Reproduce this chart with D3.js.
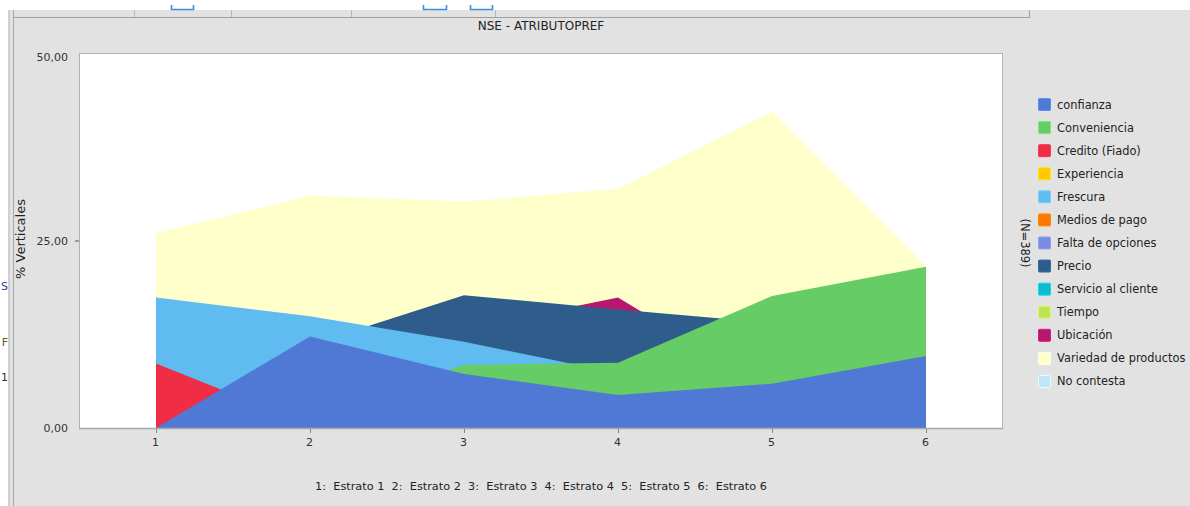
<!DOCTYPE html>
<html>
<head>
<meta charset="utf-8">
<script src="https://cdn.jsdelivr.net/npm/d3@7/dist/d3.min.js"></script>
<style>
  html, body { margin: 0; padding: 0; background: #ffffff; }
  svg { display: block; font-family: "DejaVu Sans", Verdana, sans-serif; }
</style>
</head>
<body>
<svg id="chart" width="1190" height="506"></svg>
<script>
// ---- data ---------------------------------------------------------------
const categories = ["1", "2", "3", "4", "5", "6"];

const confianza       = [0.0, 12.2, 7.2, 4.4, 5.9, 9.6];
const conveniencia    = [0.0, 1.5, 8.4, 8.7, 17.6, 21.5];
const credito         = [8.6, 0.4, 0.0, 0.0, 0.0, 0.0];
const experiencia     = [0, 0, 0, 0, 0, 0];
const frescura        = [17.4, 14.9, 11.5, 7.3, 9.0, 6.5];
const mediosDePago    = [0, 0, 0, 0, 0, 0];
const faltaDeOpciones = [0, 0, 0, 0, 0, 0];
const precio          = [9.0, 11.1, 17.7, 15.8, 14.0, 12.0];
const servicioCliente = [0, 0, 0, 0, 0, 0];
const tiempo          = [0, 0, 0, 0, 0, 0];
const ubicacion       = [7.0, 9.5, 13.2, 17.4, 5.0, 4.0];
const variedad        = [26.0, 31.0, 30.2, 31.9, 42.2, 21.6];
const noContesta      = [0, 0, 0, 0, 0, 0];

const seriesNames = [
  "confianza", "Conveniencia", "Credito (Fiado)", "Experiencia", "Frescura",
  "Medios de pago", "Falta de opciones", "Precio", "Servicio al cliente",
  "Tiempo", "Ubicación", "Variedad de productos", "No contesta"
];
const seriesValues = [
  confianza, conveniencia, credito, experiencia, frescura, mediosDePago,
  faltaDeOpciones, precio, servicioCliente, tiempo, ubicacion, variedad, noContesta
];
const seriesColors = [
  "#5079d5", "#66cc66", "#ef2e45", "#ffc800", "#60bbf0", "#ff7800",
  "#7b8ce0", "#2e5d8c", "#0dbcd0", "#bce35a", "#b8176f", "#ffffcc", "#c2e4fa"
];

const yTicks = [0, 25, 50];
const chartTitle = "NSE - ATRIBUTOPREF";
const yAxisTitle = "% Verticales";
const sampleNote = "(N=389)";
const categoryKey = "1:  Estrato 1  2:  Estrato 2  3:  Estrato 3  4:  Estrato 4  5:  Estrato 5  6:  Estrato 6";

// ---- layout ---------------------------------------------------------------
const W = 1190, H = 506;
const plot = { left: 79, top: 53, right: 1003, bottom: 428 };
const panelBg = "#e2e2e2";

const svg = d3.select("#chart");

// window chrome: white strip on top, grey panel, separators
svg.append("rect").attr("x", 0).attr("y", 0).attr("width", W).attr("height", H).attr("fill", "#ffffff");
svg.append("rect").attr("x", 10).attr("y", 10).attr("width", W - 10).attr("height", H - 10).attr("fill", panelBg);
svg.append("rect").attr("x", 8).attr("y", 10).attr("width", 2).attr("height", H - 10).attr("fill", "#d0d0d0");
svg.append("line").attr("x1", 13.5).attr("x2", 13.5).attr("y1", 10).attr("y2", H)
  .attr("stroke", "#a8a8a8").attr("stroke-width", 1);
svg.append("line").attr("x1", 13).attr("x2", 1030).attr("y1", 17.5).attr("y2", 17.5)
  .attr("stroke", "#a0a0a0").attr("stroke-width", 1);
svg.append("line").attr("x1", 1029.5).attr("x2", 1029.5).attr("y1", 10).attr("y2", 18)
  .attr("stroke", "#a0a0a0");
[134, 231, 351, 495].forEach(x => {
  svg.append("line").attr("x1", x + 0.5).attr("x2", x + 0.5).attr("y1", 10).attr("y2", 17)
    .attr("stroke", "#b8b8b8");
});
// toolbar button edges peeking below the top strip
[[171, 193], [423, 446], [470, 492]].forEach(([a, b]) => {
  svg.append("path")
    .attr("d", `M${a + 0.5},5 V9.5 H${b + 0.5} V5`)
    .attr("fill", "none").attr("stroke", "#3d8ee0").attr("stroke-width", 1.6);
});
// clipped characters of the neighbouring panel
const sideGlyphs = [["S", 290, "#2b3f9a"], ["F", 346, "#6b5a10"], ["1", 381, "#333333"]];
sideGlyphs.forEach(([t, y, c]) => {
  svg.append("text").attr("x", 8).attr("y", y).attr("text-anchor", "end")
    .attr("font-size", 11).attr("fill", c).text(t);
});

// ---- scales -----------------------------------------------------------------
const x = d3.scalePoint().domain(categories).range([plot.left, plot.right]).padding(0.5);
const y = d3.scaleLinear().domain([0, 50]).range([plot.bottom, plot.top]);

const locale = d3.formatLocale({ decimal: ",", thousands: ".", grouping: [3], currency: ["", ""] });
const fmt = locale.format(".2f");

// plot background
svg.append("rect").attr("x", plot.left).attr("y", plot.top)
  .attr("width", plot.right - plot.left).attr("height", plot.bottom - plot.top)
  .attr("fill", "#ffffff");

// ---- areas (first series painted last, so it sits in front) ------------------
const area = d3.area()
  .x((d, i) => x(categories[i]))
  .y0(y(0))
  .y1(d => y(d));

const order = d3.range(seriesNames.length).reverse();
svg.append("g").selectAll("path")
  .data(order)
  .join("path")
  .attr("d", k => area(seriesValues[k]))
  .attr("fill", k => seriesColors[k]);

// plot frame
svg.append("rect").attr("x", plot.left + 0.5).attr("y", plot.top + 0.5)
  .attr("width", plot.right - plot.left - 1).attr("height", plot.bottom - plot.top)
  .attr("fill", "none").attr("stroke", "#b4b4b4");
svg.append("line").attr("x1", plot.left).attr("x2", plot.right).attr("y1", plot.bottom + 0.5).attr("y2", plot.bottom + 0.5)
  .attr("stroke", "#a8a8a8").attr("stroke-width", 1.5);
svg.append("line").attr("x1", plot.left + 0.5).attr("x2", plot.left + 0.5).attr("y1", plot.top).attr("y2", plot.bottom)
  .attr("stroke", "#b0b0b0");

// ---- axes -------------------------------------------------------------------
const yAxis = svg.append("g").attr("transform", `translate(${plot.left},0)`)
  .call(d3.axisLeft(y).tickValues(yTicks).tickFormat(fmt).tickSize(4).tickPadding(7));
yAxis.select(".domain").remove();
yAxis.selectAll(".tick line").attr("stroke", "#555").attr("display", d => (d === 25 ? null : "none"));
yAxis.selectAll(".tick text").attr("font-size", 11).attr("fill", "#333")
  .attr("font-family", "DejaVu Sans, sans-serif")
  .attr("dy", d => (d === 50 ? "0.7em" : "0.32em"));

const xAxis = svg.append("g").attr("transform", `translate(0,${plot.bottom + 1})`)
  .call(d3.axisBottom(x).tickSize(4).tickPadding(5));
xAxis.select(".domain").remove();
xAxis.selectAll(".tick line").attr("stroke", "#888");
xAxis.selectAll(".tick text").attr("font-size", 11).attr("fill", "#333")
  .attr("font-family", "DejaVu Sans, sans-serif")
  .attr("dx", "-1");

// ---- text ---------------------------------------------------------------------
svg.append("text").attr("x", 541).attr("y", 30).attr("text-anchor", "middle")
  .attr("font-size", 12).attr("fill", "#222").text(chartTitle);

svg.append("text").attr("transform", "translate(25,239) rotate(-90)")
  .attr("text-anchor", "middle").attr("font-size", 13).attr("fill", "#222").text(yAxisTitle);

svg.append("text").attr("transform", "translate(1021,243) rotate(90)")
  .attr("text-anchor", "middle").attr("font-size", 11.5).attr("fill", "#222").text(sampleNote);

svg.append("text").attr("x", 541).attr("y", 490).attr("text-anchor", "middle")
  .attr("font-size", 11.3).attr("fill", "#222").attr("xml:space", "preserve")
  .style("white-space", "pre").text(categoryKey);

// ---- legend -------------------------------------------------------------------
const legend = svg.append("g").attr("transform", "translate(1038,98)");
const rows = legend.selectAll("g").data(seriesNames).join("g")
  .attr("transform", (d, i) => `translate(0,${i * 23.08})`);
rows.append("rect").attr("x", 0.5).attr("y", 0.5).attr("width", 12).attr("height", 12)
  .attr("rx", 1).attr("fill", (d, i) => seriesColors[i])
  .attr("stroke", (d, i) => d3.color(seriesColors[i]).brighter(0.4)).attr("stroke-width", 1);
rows.append("text").attr("x", 19).attr("y", 6.5).attr("dy", "0.35em")
  .attr("font-size", 11.4).attr("fill", "#222").text(d => d);
</script>
</body>
</html>
